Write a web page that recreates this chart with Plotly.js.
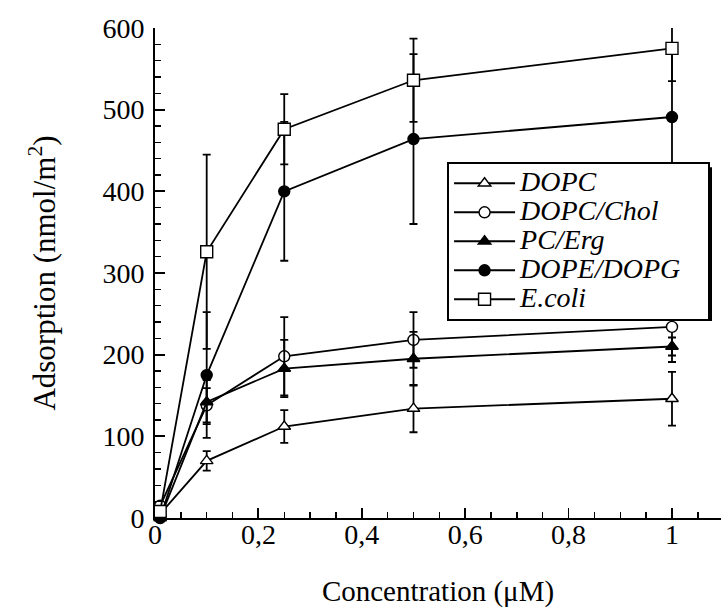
<!DOCTYPE html>
<html>
<head>
<meta charset="utf-8">
<script src="https://cdn.plot.ly/plotly-3.0.1.min.js"></script>
<style>html,body{margin:0;padding:0;background:#fff;}#chart{width:721px;height:608px;}</style>
</head>
<body>
<div id="chart"></div>
<script>
// Concentration (µM)
const concentration = [0.01, 0.1, 0.25, 0.5, 1];

const seriesNames = ["DOPC", "DOPC/Chol", "PC/Erg", "DOPE/DOPG", "E.coli"];

const dopc      = [5, 70, 112, 134, 146];
const dopcErr   = [3, 12, 20, 29, 33];
const chol      = [15, 138, 198, 218, 234];
const cholErr   = [3, 21, 48, 34, 43];
const pcErg     = [0, 142, 183, 195, 210];
const pcErgErr  = [2, 27, 35, 33, 11];
const dopeDopg  = [0, 175, 400, 464, 491];
const dopeErr   = [2, 77, 85, 104, 90];
const ecoli     = [8, 326, 476, 536, 575];
const ecoliErr  = [4, 119, 43, 51, 40];

const xTickVals = [0, 0.2, 0.4, 0.6, 0.8, 1];
const yTickVals = [0, 100, 200, 300, 400, 500, 600];

const FONT = "Liberation Serif, Times New Roman, Times, serif";

const values = [dopc, chol, pcErg, dopeDopg, ecoli];
const errors = [dopcErr, cholErr, pcErgErr, dopeErr, ecoliErr];
const symbols = ["triangle-up", "circle", "triangle-up", "circle", "square"];
const fills = ["#ffffff", "#ffffff", "#000000", "#000000", "#ffffff"];
const sizes = [11, 11, 11, 11, 12];

const traces = seriesNames.map((name, i) => ({
  x: concentration,
  y: values[i],
  name: '<span style="font-size:28px">' + name + '\u00A0\u00A0\u00A0</span>',
  type: 'scatter',
  mode: 'lines+markers',
  cliponaxis: false,
  line: {color: '#000', width: 1.8},
  marker: {symbol: symbols[i], size: sizes[i], color: fills[i], line: {color: '#000', width: 1.4}},
  error_y: {type: 'data', array: errors[i], visible: true, color: '#000', thickness: 1.8, width: 4}
}));

const layout = {
  width: 721, height: 608,
  margin: {l: 155, r: 0, t: 28, b: 90},
  paper_bgcolor: '#fff', plot_bgcolor: '#fff',
  separators: ',.',
  font: {family: FONT, color: '#000', size: 28},
  showlegend: true,
  legend: {
    x: 0.516, y: 0.727, xanchor: 'left', yanchor: 'top',
    bgcolor: '#fff', bordercolor: '#000', borderwidth: 2,
    font: {family: FONT, size: 20, color: '#000', style: 'italic'},
    itemwidth: 61, tracegroupgap: 0
  },
  xaxis: {
    range: [0, 1.0948], autorange: false,
    showline: true, linecolor: '#000', linewidth: 2,
    showgrid: false, zeroline: false,
    ticks: 'inside', ticklen: 10, tickwidth: 1.8, tickcolor: '#000',
    tickvals: xTickVals,
    minor: {dtick: 0.05, tick0: 0, ticks: 'inside', ticklen: 6, tickwidth: 1.5, tickcolor: '#000', showgrid: false},
    tickfont: {family: FONT, size: 28, color: '#000'},
    ticklabelstandoff: -10,
    title: {text: 'Concentration (\u03BCM)', font: {family: FONT, size: 29, color: '#000'}, standoff: 33}
  },
  yaxis: {
    range: [0, 600], autorange: false,
    showline: true, linecolor: '#000', linewidth: 2,
    showgrid: false, zeroline: false,
    ticks: 'inside', ticklen: 10, tickwidth: 1.8, tickcolor: '#000',
    tickvals: yTickVals,
    minor: {dtick: 20, tick0: 0, ticks: 'inside', ticklen: 6, tickwidth: 1.5, tickcolor: '#000', showgrid: false},
    tickfont: {family: FONT, size: 28, color: '#000'},
    ticklabelstandoff: 3,
    title: {text: 'Adsorption (nmol/m<sup>2</sup>)', font: {family: FONT, size: 31, color: '#000'}, standoff: 38}
  },
  shapes: [{
    type: 'rect', xref: 'paper', yref: 'paper', layer: 'above',
    x0: 0.523, x1: 0.9841, y0: 0.402, y1: 0.716,
    fillcolor: '#000', line: {width: 0}
  }]
};

Plotly.newPlot('chart', traces, layout, {displayModeBar: false, staticPlot: true});
</script>
</body>
</html>
